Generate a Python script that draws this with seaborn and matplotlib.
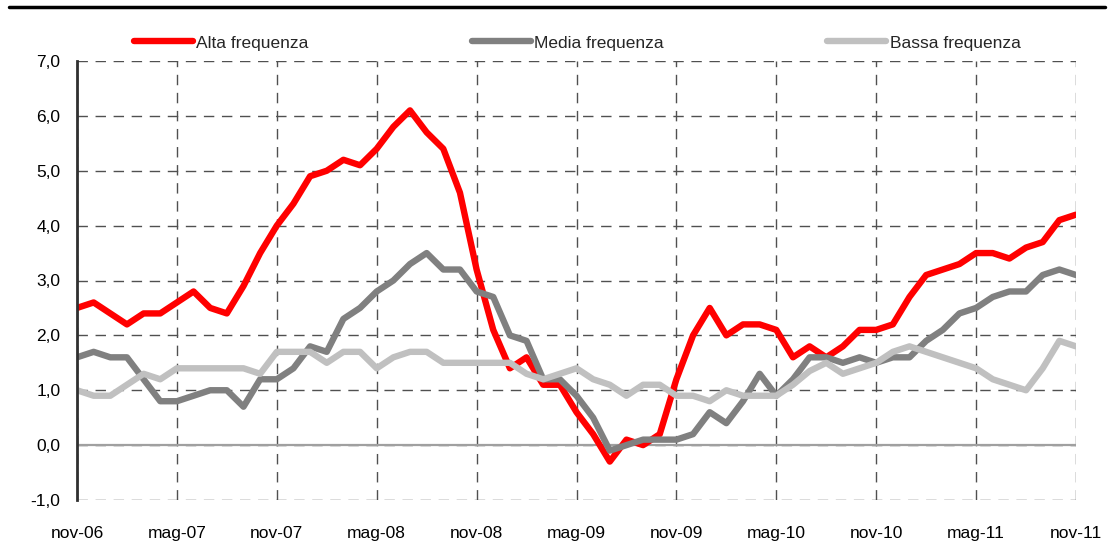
import matplotlib
matplotlib.use("Agg")
import matplotlib.pyplot as plt
import seaborn as sns
import pandas as pd
import numpy as np

# ---- data ----
tick_labels = ["nov-06", "mag-07", "nov-07", "mag-08", "nov-08", "mag-09",
               "nov-09", "mag-10", "nov-10", "mag-11", "nov-11"]
series_names = ["Alta frequenza", "Media frequenza", "Bassa frequenza"]

alta = [2.5, 2.6, 2.4, 2.2, 2.4, 2.4, 2.6, 2.8, 2.5, 2.4, 2.9, 3.5,
        4.0, 4.4, 4.9, 5.0, 5.2, 5.1, 5.4, 5.8, 6.1, 5.7, 5.4, 4.6,
        3.2, 2.1, 1.4, 1.6, 1.1, 1.1, 0.6, 0.2, -0.3, 0.1, 0.0, 0.2,
        1.2, 2.0, 2.5, 2.0, 2.2, 2.2, 2.1, 1.6, 1.8, 1.6, 1.8, 2.1,
        2.1, 2.2, 2.7, 3.1, 3.2, 3.3, 3.5, 3.5, 3.4, 3.6, 3.7, 4.1, 4.2]
media = [1.6, 1.7, 1.6, 1.6, 1.2, 0.8, 0.8, 0.9, 1.0, 1.0, 0.7, 1.2,
         1.2, 1.4, 1.8, 1.7, 2.3, 2.5, 2.8, 3.0, 3.3, 3.5, 3.2, 3.2,
         2.8, 2.7, 2.0, 1.9, 1.2, 1.2, 0.9, 0.5, -0.1, 0.0, 0.1, 0.1,
         0.1, 0.2, 0.6, 0.4, 0.8, 1.3, 0.9, 1.2, 1.6, 1.6, 1.5, 1.6,
         1.5, 1.6, 1.6, 1.9, 2.1, 2.4, 2.5, 2.7, 2.8, 2.8, 3.1, 3.2, 3.1]
bassa = [1.0, 0.9, 0.9, 1.1, 1.3, 1.2, 1.4, 1.4, 1.4, 1.4, 1.4, 1.3,
         1.7, 1.7, 1.7, 1.5, 1.7, 1.7, 1.4, 1.6, 1.7, 1.7, 1.5, 1.5,
         1.5, 1.5, 1.5, 1.3, 1.2, 1.3, 1.4, 1.2, 1.1, 0.9, 1.1, 1.1,
         0.9, 0.9, 0.8, 1.0, 0.9, 0.9, 0.9, 1.1, 1.35, 1.5, 1.3, 1.4,
         1.5, 1.7, 1.8, 1.7, 1.6, 1.5, 1.4, 1.2, 1.1, 1.0, 1.4, 1.9, 1.8]

months = list(range(len(alta)))
df = pd.DataFrame({
    "mese": months * 3,
    "valore": alta + media + bassa,
    "serie": [series_names[0]] * len(alta) + [series_names[1]] * len(media) + [series_names[2]] * len(bassa),
})

colors = {"Alta frequenza": "#FF0000", "Media frequenza": "#808080", "Bassa frequenza": "#C0C0C0"}

sns.set_style("white")
plt.rcParams['font.family'] = ['Liberation Sans', 'DejaVu Sans']

fig = plt.figure(figsize=(11.10, 5.54), dpi=100)
ax = fig.add_axes([77 / 1110, 1 - 500 / 554, (1076 - 77) / 1110, (500 - 61) / 554])

sns.lineplot(data=df, x="mese", y="valore", hue="serie", palette=colors,
             hue_order=series_names, linewidth=4.6, ax=ax, legend=False,
             solid_joinstyle="round", solid_capstyle="round", zorder=3)

ax.set_xlim(0, 60)
ax.set_ylim(-1.0, 7.0)
ax.set_xticks(np.arange(0, 61, 6))
ax.set_xticklabels(tick_labels)
yt = np.arange(-1, 7.01, 1.0)
ax.set_yticks(yt)
ax.set_yticklabels([f"{v:.1f}".replace(".", ",") for v in yt])
ax.set_xlabel("")
ax.set_ylabel("")

ax.grid(True, linestyle=(0, (7.5, 5.5)), color="#505050", linewidth=1.0, zorder=1)
ax.axhline(0, color="#A0A0A0", linewidth=1.6, zorder=2)

for s in ["top", "right", "bottom"]:
    ax.spines[s].set_visible(False)
ax.spines["left"].set_color("#303030")
ax.spines["left"].set_linewidth(2)
ax.spines["left"].set_zorder(4)

ax.tick_params(axis="both", length=0, labelsize=12.5, colors="black")
ax.tick_params(axis="x", pad=19)
ax.tick_params(axis="y", pad=12)

# top rule
fig.add_artist(plt.Line2D([9 / 1110, 1105 / 1110], [1 - 7 / 554, 1 - 7 / 554],
                          color="black", linewidth=2.5, transform=fig.transFigure))

handles = [plt.Line2D([], [], color=colors[n], linewidth=4.6, solid_capstyle="round") for n in series_names]
fig.legend(handles, series_names, loc="center", bbox_to_anchor=(577 / 1110, 1 - 43 / 554),
           ncol=3, frameon=False, fontsize=12.5, handlelength=3.4, handletextpad=0.2,
           columnspacing=9.4)

fig.savefig("out.png", dpi=100)
